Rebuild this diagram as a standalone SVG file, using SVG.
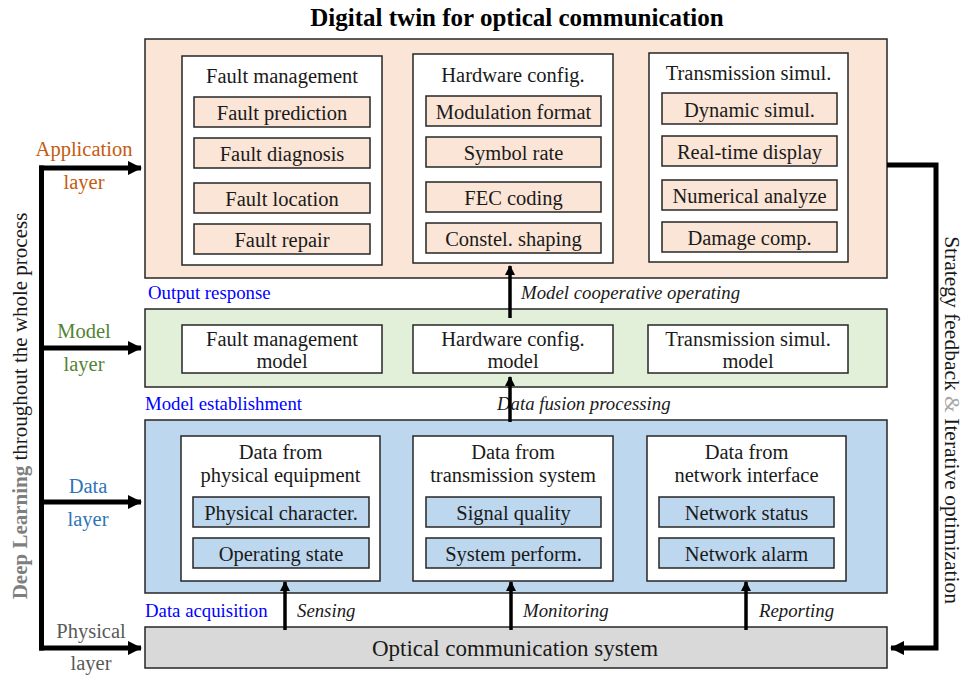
<svg xmlns="http://www.w3.org/2000/svg" width="966" height="675" viewBox="0 0 966 675">
<defs>
<style>
text{font-family:"Liberation Serif","Times New Roman",serif;fill:#1a1a1a}
.t{font-size:20.5px;text-anchor:middle}
.it{font-size:18.8px;font-style:italic;text-anchor:start}
.blue{font-size:18.8px;fill:#0000ff;text-anchor:start}
.ll{font-size:20.5px;text-anchor:middle}
.lay{stroke:#262626;stroke-width:1.5}
.panel{fill:#fff;stroke:#262626;stroke-width:1.5}
.app{fill:#fbe5d6}
.mod{fill:#e2f0d9}
.dat{fill:#bdd7ee}
.phy{fill:#d9d9d9}
.sub{stroke:#262626;stroke-width:1.5}
.thick{fill:none;stroke:#000;stroke-width:5}
.thin{fill:none;stroke:#000;stroke-width:3.5}
</style>
<marker id="big" markerUnits="userSpaceOnUse" viewBox="0 0 14 14" markerWidth="14" markerHeight="14" refX="13" refY="7" orient="auto">
<path d="M0,0 L14,7 L0,14 Z" fill="#000"/>
</marker>
<marker id="small" markerUnits="userSpaceOnUse" viewBox="0 0 10 10" markerWidth="10" markerHeight="10" refX="9" refY="5" orient="auto">
<path d="M0,0 L10,5 L0,10 Z" fill="#000"/>
</marker>
</defs>
<rect width="966" height="675" fill="#fff"/>

<text x="517" y="26" style="font-size:25px;font-weight:bold;text-anchor:middle;fill:#000">Digital twin for optical communication</text>

<!-- Application layer -->
<g id="application-layer">
<rect class="lay app" x="145" y="39" width="742" height="239"/>
</g>
<g id="fault-management">
<rect class="panel" x="182" y="56" width="200" height="209"/>
<text class="t" x="282" y="83">Fault management</text>
<rect class="sub app" x="194" y="97" width="176" height="30"/><text class="t" x="282" y="120">Fault prediction</text>
<rect class="sub app" x="194" y="138" width="176" height="30"/><text class="t" x="282" y="161">Fault diagnosis</text>
<rect class="sub app" x="194" y="183" width="176" height="30"/><text class="t" x="282" y="206">Fault location</text>
<rect class="sub app" x="194" y="224" width="176" height="30"/><text class="t" x="282" y="247">Fault repair</text>
</g>
<g id="hardware-config">
<rect class="panel" x="413" y="54" width="200" height="209"/>
<text class="t" x="513" y="82">Hardware config.</text>
<rect class="sub app" x="426" y="96" width="175" height="30"/><text class="t" x="513.5" y="119">Modulation format</text>
<rect class="sub app" x="426" y="137" width="175" height="30"/><text class="t" x="513.5" y="160">Symbol rate</text>
<rect class="sub app" x="426" y="182" width="175" height="30"/><text class="t" x="513.5" y="205">FEC coding</text>
<rect class="sub app" x="426" y="223" width="175" height="30"/><text class="t" x="513.5" y="246">Constel. shaping</text>
</g>
<g id="transmission-simul">
<rect class="panel" x="649" y="53" width="199" height="209"/>
<text class="t" x="748.5" y="80">Transmission simul.</text>
<rect class="sub app" x="662" y="93" width="175" height="31"/><text class="t" x="749.5" y="117">Dynamic simul.</text>
<rect class="sub app" x="662" y="136" width="175" height="30"/><text class="t" x="749.5" y="159">Real-time display</text>
<rect class="sub app" x="662" y="180" width="175" height="30"/><text class="t" x="749.5" y="203">Numerical analyze</text>
<rect class="sub app" x="662" y="222" width="175" height="30"/><text class="t" x="749.5" y="245">Damage comp.</text>
</g>

<!-- Model layer -->
<g id="model-layer">
<rect class="lay mod" x="145" y="309" width="742" height="78"/>
</g>
<g id="fault-management-model">
<rect class="panel" x="182" y="325" width="200" height="48"/>
<text class="t" x="282" y="346">Fault management</text>
<text class="t" x="282" y="368">model</text>
</g>
<g id="hardware-config-model">
<rect class="panel" x="413" y="325" width="200" height="48"/>
<text class="t" x="513" y="346">Hardware config.</text>
<text class="t" x="513" y="368">model</text>
</g>
<g id="transmission-simul-model">
<rect class="panel" x="648" y="325" width="200" height="48"/>
<text class="t" x="748" y="346">Transmission simul.</text>
<text class="t" x="748" y="368">model</text>
</g>

<!-- Data layer -->
<g id="data-layer">
<rect class="lay dat" x="145" y="420" width="742" height="173"/>
</g>
<g id="data-physical-equipment">
<rect class="panel" x="181" y="436" width="199" height="145"/>
<text class="t" x="280.5" y="459">Data from</text>
<text class="t" x="280.5" y="482">physical equipment</text>
<rect class="sub dat" x="193" y="497" width="176" height="30"/><text class="t" x="281" y="520">Physical character.</text>
<rect class="sub dat" x="193" y="538" width="176" height="30"/><text class="t" x="281" y="561">Operating state</text>
</g>
<g id="data-transmission-system">
<rect class="panel" x="413" y="436" width="200" height="145"/>
<text class="t" x="513" y="459">Data from</text>
<text class="t" x="513" y="482">transmission system</text>
<rect class="sub dat" x="426" y="497" width="175" height="30"/><text class="t" x="513.5" y="520">Signal quality</text>
<rect class="sub dat" x="426" y="538" width="175" height="30"/><text class="t" x="513.5" y="561">System perform.</text>
</g>
<g id="data-network-interface">
<rect class="panel" x="647" y="436" width="199" height="145"/>
<text class="t" x="746.5" y="459">Data from</text>
<text class="t" x="746.5" y="482">network interface</text>
<rect class="sub dat" x="659" y="497" width="175" height="30"/><text class="t" x="746.5" y="520">Network status</text>
<rect class="sub dat" x="659" y="538" width="175" height="30"/><text class="t" x="746.5" y="561">Network alarm</text>
</g>

<!-- Physical layer -->
<g id="physical-layer">
<rect class="lay phy" x="145" y="627" width="742" height="41"/>
<text x="515" y="656" style="font-size:23px;text-anchor:middle">Optical communication system</text>
</g>

<!-- Stage labels -->
<text class="blue" x="148" y="299">Output response</text>
<text class="blue" x="145" y="410">Model establishment</text>
<text class="blue" x="145" y="617">Data acquisition</text>
<text class="it" x="521" y="299">Model cooperative operating</text>
<text class="it" x="497" y="410">Data fusion processing</text>
<text class="it" x="297" y="617">Sensing</text>
<text class="it" x="523" y="617">Monitoring</text>
<text class="it" x="759" y="617">Reporting</text>

<!-- Left labels -->
<text class="ll" x="84" y="156" style="fill:#c55a11">Application</text>
<text class="ll" x="84" y="189" style="fill:#c55a11">layer</text>
<text class="ll" x="84" y="338" style="fill:#548235">Model</text>
<text class="ll" x="84" y="371" style="fill:#548235">layer</text>
<text class="ll" x="88" y="493" style="fill:#2e75b6">Data</text>
<text class="ll" x="88" y="526" style="fill:#2e75b6">layer</text>
<text class="ll" x="91" y="638" style="fill:#595959">Physical</text>
<text class="ll" x="91" y="670" style="fill:#595959">layer</text>

<text transform="translate(27,406) rotate(-90)" style="font-size:21px;text-anchor:middle"><tspan style="font-weight:bold;fill:#7f7f7f">Deep Learning</tspan> throughout the whole process</text>
<text transform="translate(945,420) rotate(90)" style="font-size:21.5px;text-anchor:middle">Strategy feedback <tspan style="fill:#a6a6a6">&amp;</tspan> Iterative optimization</text>

<!-- Connectors -->
<g id="connectors">
<path class="thick" d="M41.5,165.5 V650.5"/>
<path class="thick" d="M39,168 H141" marker-end="url(#big)"/>
<path class="thick" d="M39,348 H141" marker-end="url(#big)"/>
<path class="thick" d="M39,502 H141" marker-end="url(#big)"/>
<path class="thick" d="M39,648 H141" marker-end="url(#big)"/>
<path class="thick" d="M887,165 H936 V648 H891" marker-end="url(#big)"/>
<path class="thin" d="M510,318 V266" marker-end="url(#small)"/>
<path class="thin" d="M510,422 V377" marker-end="url(#small)"/>
<path class="thin" d="M285,630 V582" marker-end="url(#small)"/>
<path class="thin" d="M511,630 V582" marker-end="url(#small)"/>
<path class="thin" d="M746,630 V582" marker-end="url(#small)"/>
</g>
</svg>
